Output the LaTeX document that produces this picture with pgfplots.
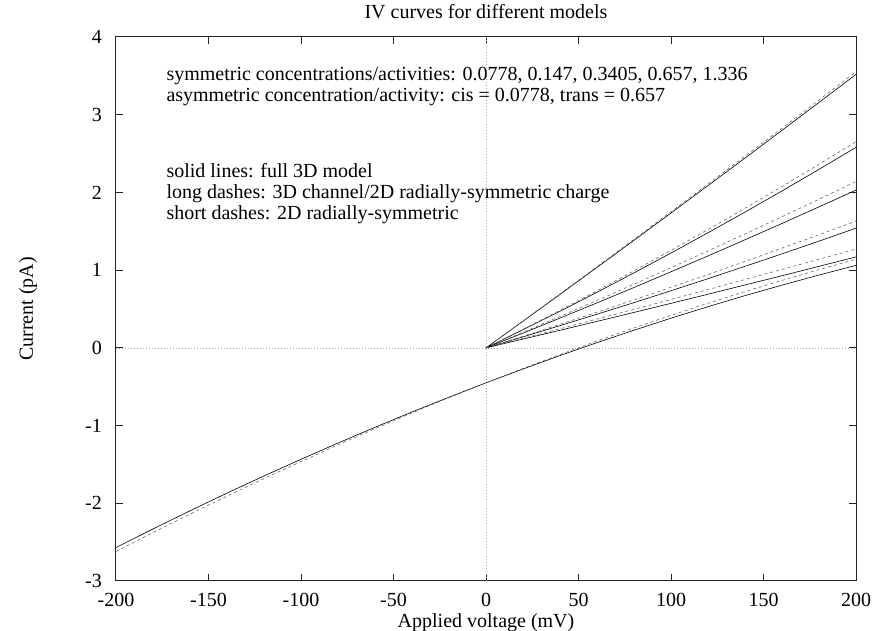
\documentclass[border=0pt]{standalone}
\usepackage{pgfplots}
\pgfplotsset{compat=1.18}
\usepackage{fontspec}
\setmainfont{Liberation Serif}
\newcommand{\ff}{\fontsize{20}{24}\selectfont}
\begin{document}
\begin{tikzpicture}[font=\ff]
\begin{axis}[
 scale only axis, width=740pt, height=544pt,
 xmin=-200, xmax=200, ymin=-3, ymax=4,
 xtick={-200,-150,-100,-50,0,50,100,150,200},
 xticklabels={-200,-150,-100,-50,0,50,100,150,200},
 ytick={-3,-2,-1,0,1,2,3,4},
 yticklabels={-3,-2,-1,0,1,2,3,4},
 tick align=inside, major tick length=7pt, minor tick num=0,
 axis line style={black!85, line width=1pt},
 every tick/.style={black!85, line width=1pt},
 xticklabel style={font=\ff, anchor=base, inner sep=0pt, yshift=-26pt},
 yticklabel style={font=\ff, anchor=east, inner sep=0pt, xshift=-14pt},
 title={IV curves for different models},
 title style={font=\ff, at={(axis description cs:0.5,1)}, anchor=base, yshift=12pt},
 xlabel={Applied voltage (mV)},
 xlabel style={font=\ff, at={(axis description cs:0.5,0)}, anchor=base, yshift=-47pt},
 ylabel={Current (pA)},
 ylabel style={font=\ff, at={(axis description cs:-0.1122,0.5)}, anchor=base},
 solid/.style={black, line width=0.6pt},
 dsh/.style={black!60, line width=0.6pt, dash pattern=on 3pt off 3pt},
]
% zero axes
\addplot[gray!70, line width=0.6pt, dash pattern=on 1pt off 2pt] coordinates {(-200,0) (200,0)};
\addplot[gray!70, line width=0.6pt, dash pattern=on 1pt off 2pt] coordinates {(0,-3) (0,4)};

% symmetric 1.336
\addplot[solid] coordinates {(0,0)(20,0.343)(40,0.688)(60,1.035)(80,1.384)(100,1.735)(120,2.088)(140,2.442)(160,2.799)(180,3.158)(200,3.519)};
\addplot[dsh] coordinates {(0,0)(20,0.346)(40,0.695)(60,1.045)(80,1.397)(100,1.752)(120,2.108)(140,2.466)(160,2.826)(180,3.189)(200,3.553)};
% symmetric 0.657
\addplot[solid] coordinates {(0,0)(20,0.233)(40,0.471)(60,0.715)(80,0.965)(100,1.220)(120,1.481)(140,1.747)(160,2.019)(180,2.297)(200,2.580)};
\addplot[dsh] coordinates {(0,0)(20,0.240)(40,0.484)(60,0.735)(80,0.992)(100,1.255)(120,1.523)(140,1.796)(160,2.076)(180,2.362)(200,2.653)};
% symmetric 0.3405
\addplot[solid] coordinates {(0,0)(20,0.190)(40,0.383)(60,0.579)(80,0.777)(100,0.979)(120,1.183)(140,1.391)(160,1.601)(180,1.814)(200,2.030)};
\addplot[dsh] coordinates {(0,0)(20,0.200)(40,0.404)(60,0.610)(80,0.819)(100,1.032)(120,1.247)(140,1.466)(160,1.687)(180,1.912)(200,2.140)};
% symmetric 0.147
\addplot[solid] coordinates {(0,0)(20,0.141)(40,0.286)(60,0.433)(80,0.582)(100,0.735)(120,0.890)(140,1.049)(160,1.210)(180,1.373)(200,1.540)};
\addplot[dsh] coordinates {(0,0)(20,0.149)(40,0.303)(60,0.459)(80,0.617)(100,0.779)(120,0.943)(140,1.112)(160,1.283)(180,1.455)(200,1.632)};
% symmetric 0.0778
\addplot[solid] coordinates {(0,0)(20,0.113)(40,0.226)(60,0.341)(80,0.456)(100,0.573)(120,0.690)(140,0.809)(160,0.928)(180,1.049)(200,1.170)};
\addplot[dsh] coordinates {(0,0)(20,0.122)(40,0.246)(60,0.370)(80,0.496)(100,0.622)(120,0.750)(140,0.879)(160,1.009)(180,1.140)(200,1.272)};
% asymmetric
\addplot[solid] coordinates {(-200,-2.569)(-180,-2.330)(-160,-2.097)(-140,-1.869)(-120,-1.648)(-100,-1.434)(-80,-1.225)(-60,-1.022)(-40,-0.825)(-20,-0.635)(0,-0.450)(20,-0.272)(40,-0.099)(60,0.067)(80,0.227)(100,0.382)(120,0.530)(140,0.672)(160,0.807)(180,0.937)(200,1.061)};
\addplot[dsh] coordinates {(-200,-2.620)(-180,-2.377)(-160,-2.140)(-140,-1.908)(-120,-1.682)(-100,-1.463)(-80,-1.248)(-60,-1.040)(-40,-0.838)(-20,-0.641)(0,-0.450)(20,-0.265)(40,-0.086)(60,0.088)(80,0.256)(100,0.418)(120,0.574)(140,0.724)(160,0.868)(180,1.007)(200,1.140)};

\node[anchor=base west, font=\ff] at (axis description cs:0.0635,0.920) {symmetric concentrations/activities: 0.0778, 0.147, 0.3405, 0.657, 1.336};
\node[anchor=base west, font=\ff] at (axis description cs:0.0635,0.8814) {asymmetric concentration/activity: cis = 0.0778, trans = 0.657};
\node[anchor=base west, font=\ff] at (axis description cs:0.0635,0.7417) {solid lines: full 3D model};
\node[anchor=base west, font=\ff] at (axis description cs:0.0635,0.7031) {long dashes: 3D channel/2D radially-symmetric charge};
\node[anchor=base west, font=\ff] at (axis description cs:0.0635,0.6645) {short dashes: 2D radially-symmetric};
\end{axis}
\pgfresetboundingbox
\useasboundingbox (-116pt,-50pt) rectangle (756pt,581pt);
\end{tikzpicture}
\end{document}
